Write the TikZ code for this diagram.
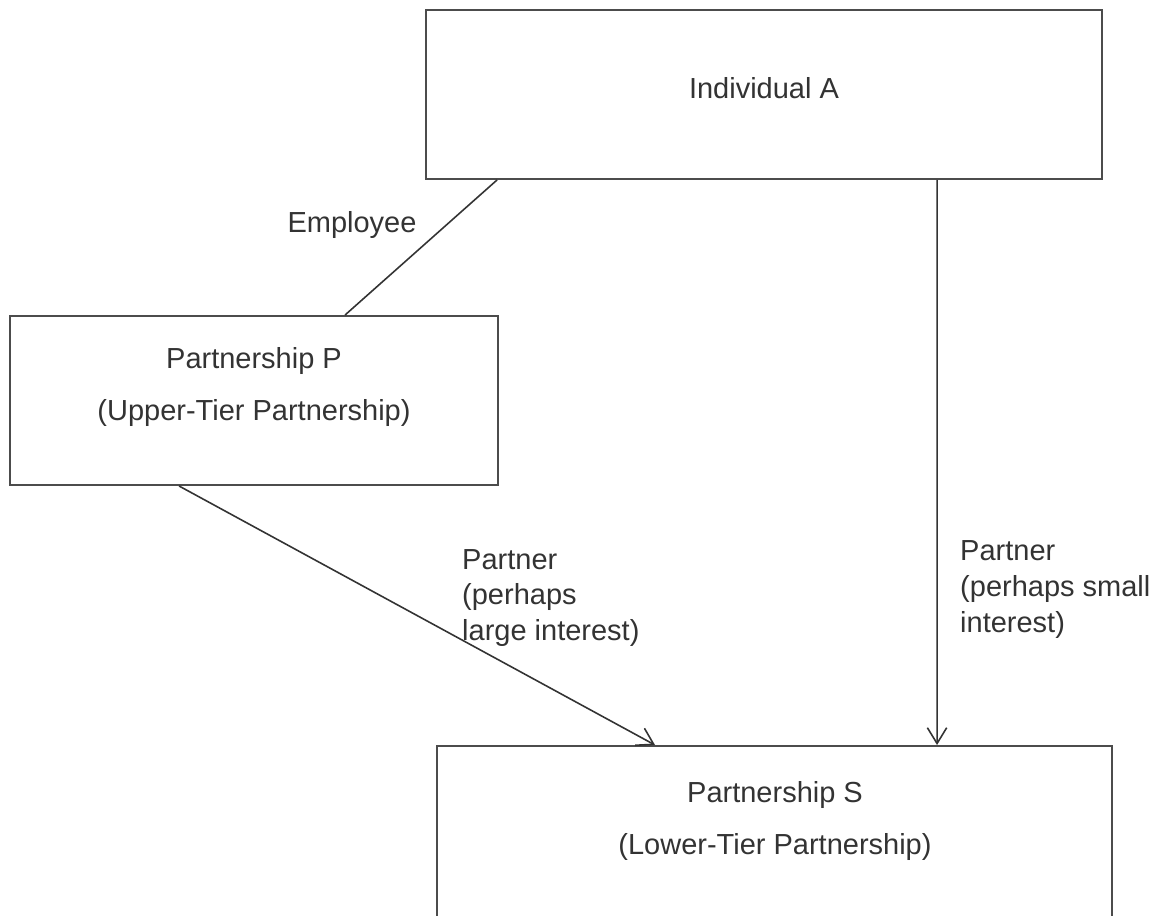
\documentclass[tikz,border=0pt]{standalone}
\usepackage{fontspec}
\setmainfont{Liberation Sans}
\usetikzlibrary{arrows.meta}

\begin{document}
\begin{tikzpicture}[
  box/.style={draw=black!70, line width=1.1pt, rectangle, inner sep=0pt},
  boxtext/.style={text=black!80, align=center, font=\fontsize{16.5}{29.5}\selectfont},
  linktext/.style={text=black!80, align=left, anchor=west, font=\fontsize{16.5}{20.4}\selectfont},
  link/.style={draw=black!80, line width=0.9pt},
  arrow/.style={link, -{Straight Barb[length=9pt, width=11pt]}}
]

% page
\clip (0,0) rectangle (23.1,-18.3);


% Individual A
\node[box, minimum width=13.52cm, minimum height=3.38cm] (abox) at (15.28,-1.89) {};
\path 
(15.28,-1.76) node[boxtext] (atext) {Individual A};


% Upper-tier partnership
\node[box, minimum width=9.76cm, minimum height=3.38cm] (pbox) at (5.08,-8.01) {};
\path 
(5.08,-7.74) node[boxtext] (ptext) {Partnership P\\(Upper-Tier Partnership)};


% Lower-tier partnership
\node[box, minimum width=13.5cm, minimum height=3.5cm] (sbox) at (15.49,-16.67) {};
\path 
(15.5,-16.42) node[boxtext] (stext) {Partnership S\\(Lower-Tier Partnership)};


% Employee link
\draw[link] ([xshift=1.44cm]abox.south west) -- ([xshift=6.72cm]pbox.north west);
\path 
(7.04,-4.5) node[boxtext] (emptext) {Employee};


% Partner links
\draw[arrow] ([xshift=3.4cm]pbox.south west) -- ([xshift=4.38cm]sbox.north west);
\path 
(9.12,-11.96) node[linktext] (bigtext) {Partner\\(perhaps\\large interest)};

\draw[arrow] ([xshift=10.24cm]abox.south west) -- ([xshift=10.02cm]sbox.north west);
\path 
(19.08,-11.79) node[linktext] (smalltext) {Partner\\(perhaps small\\interest)};


\end{tikzpicture}
\end{document}
